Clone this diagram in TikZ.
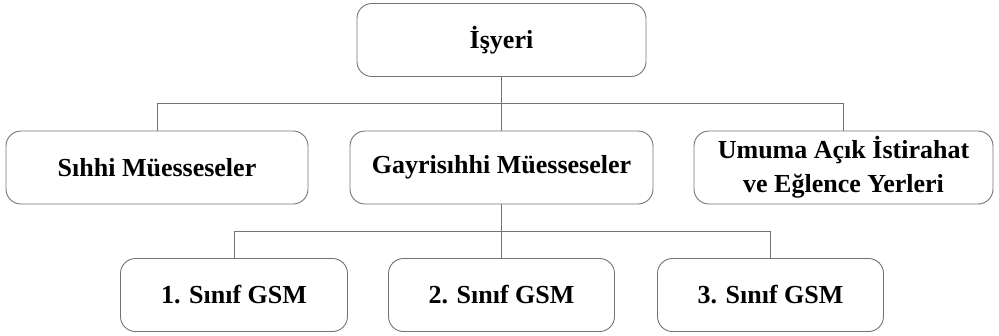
\documentclass[tikz,border=0pt]{standalone}
\usepackage{fontspec}
\setmainfont{Liberation Serif}
\usetikzlibrary{positioning, calc}

\begin{document}
\begin{tikzpicture}[
            x=1pt, y=1pt,
            box/.style={draw=black!55, rounded corners=15pt, line width=0.9pt,
                        minimum height=73pt, align=center,
                        font=\fontsize{26}{34}\selectfont\bfseries},
            link/.style={draw=black!55, line width=0.9pt},
            node distance=127.5pt]
            \useasboundingbox (0,0) rectangle (999,-335);

            \node [box, minimum width=289pt] (isyeri) at (501.5,-40) {İşyeri};
            \node [box, minimum width=303pt] (gsm) [below of = isyeri] {Gayrisıhhi Müesseseler};
            \node [box, minimum width=302pt] (sihhi) [left of = gsm, node distance=344.5pt] {Sıhhi Müesseseler};
            \node [box, minimum width=299pt] (umuma) [right of = gsm, node distance=342pt] {Umuma Açık İstirahat\\ve Eğlence Yerleri};

            \node [box, minimum width=226pt] (gsmb) [below of = gsm] {2. Sınıf GSM};
            \node [box, minimum width=227pt] (gsma) [left of = gsmb, node distance=267.5pt] {1. Sınıf GSM};
            \node [box, minimum width=226pt] (gsmc) [right of = gsmb, node distance=269pt] {3. Sınıf GSM};

            \coordinate (bus1) at ($(isyeri.south)!0.5!(gsm.north)$);
            \coordinate (bus2) at ($(gsm.south)!0.5!(gsmb.north)$);

            \path [link] (isyeri) -- (gsm)
                         (sihhi.north) |- (bus1) -| (umuma.north)
                         (gsm) -- (gsmb)
                         (gsma.north) |- (bus2) -| (gsmc.north);
        \end{tikzpicture}
\end{document}
